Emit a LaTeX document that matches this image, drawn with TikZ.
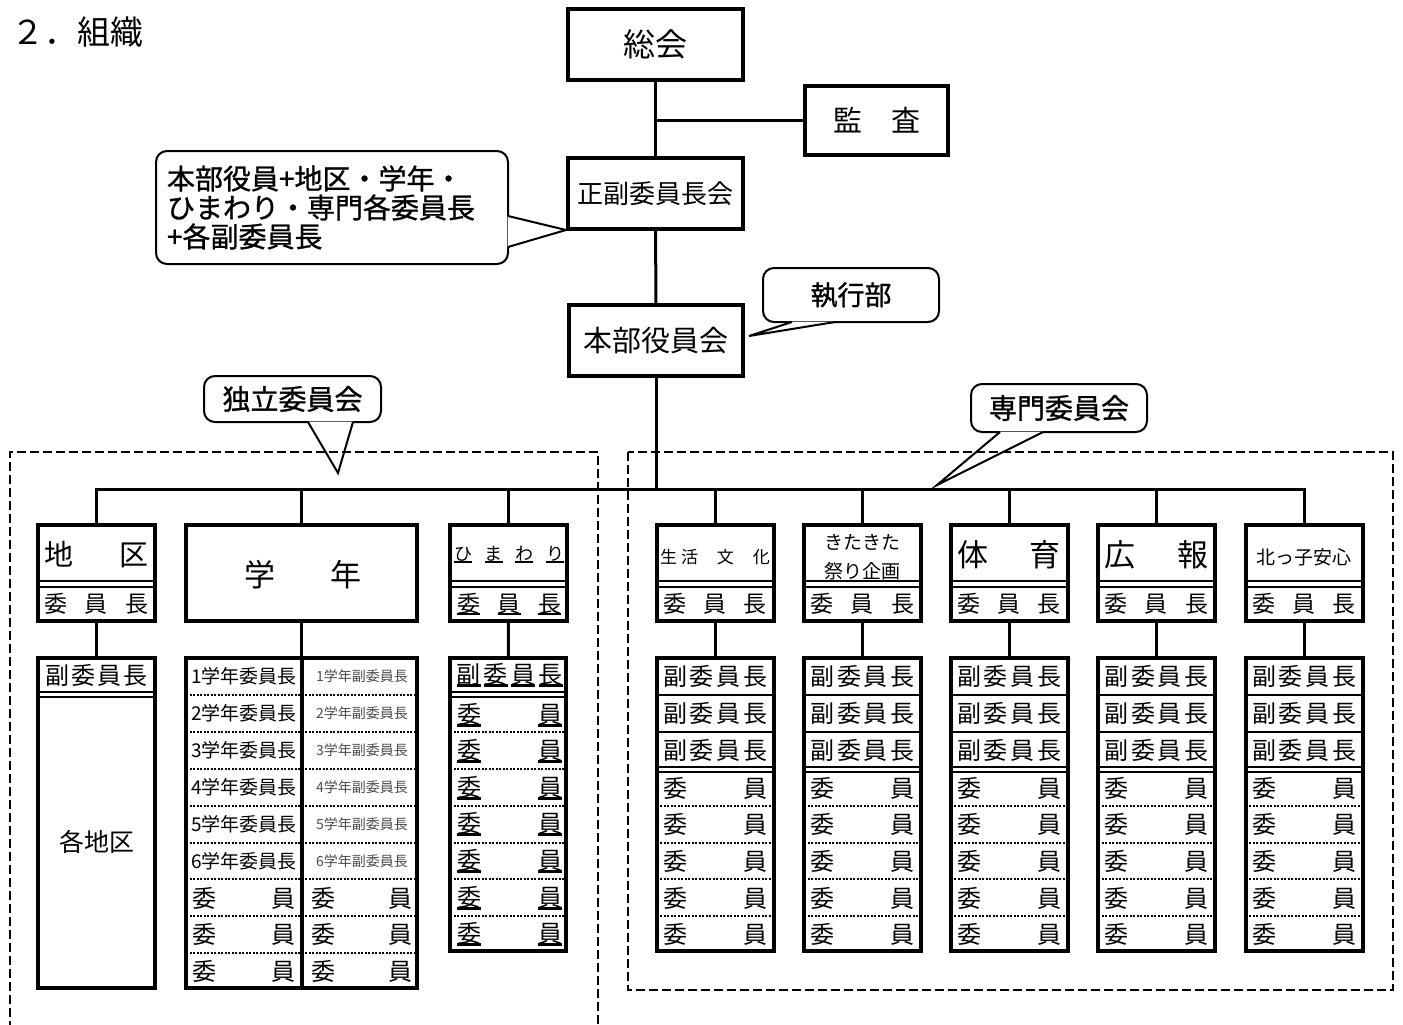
\documentclass[tikz,border=0pt]{standalone}
\usepackage{fontspec}
\setmainfont{Noto Sans CJK JP}
\newfontfamily\callfont[FakeBold=1]{Noto Sans CJK JP}
\newcommand\fsz[1]{\fontsize{#1}{#1}\selectfont}
\newcommand\ulchar[1]{\setbox0\hbox{#1}\rlap{\rule[-0.14em]{\wd0}{0.11em}}\box0}

\begin{document}
\begin{tikzpicture}[x=1pt,y=-1pt]
\tikzstyle{frame} = [draw, line width=4pt, inner sep=0pt, fill=white]
\tikzstyle{link} = [line width=3pt]
\tikzstyle{group} = [line width=2.5pt, dash pattern=on 9pt off 4pt]
\tikzstyle{bubble} = [draw, line width=2pt, rounded corners=11pt, fill=white, inner sep=0pt]
\tikzstyle{sep} = [line width=2.5pt]
\tikzstyle{dsep} = [line width=2pt, dash pattern=on 2pt off 1.5pt]
\useasboundingbox (0,0) rectangle (1403,1025);

\node[anchor=west] (title) at (8,32) {\fsz{33}２．組織};

% callouts
\node[bubble, minimum width=352pt, minimum height=113pt, align=left, text width=330pt, font=\callfont\fontsize{28}{29}\selectfont] (note) at (332,207.5) {本部役員+地区・学年・\\ひまわり・専門各委員長\\+各副委員長};
\coordinate (note-tip) at (566,230);
\fill[white] (507.5,216) -- (note-tip) -- (507.5,247) -- cycle;
\draw[line width=2pt] (508,216) -- (note-tip) -- (508,247);

\node[bubble, minimum width=176pt, minimum height=54pt] (shikko) at (851,295) {\callfont\fsz{27}執行部};
\coordinate (shikko-tip) at (749,336);
\fill[white] (792,321.5) -- (shikko-tip) -- (835,321.5) -- cycle;
\draw[line width=2pt] (792,322) -- (shikko-tip) -- (835,322);

\node[bubble, minimum width=177pt, minimum height=46pt] (dokuritsu) at (292.5,399) {\callfont\fsz{28}独立委員会};
\coordinate (dokuritsu-tip) at (338,473);
\fill[white] (308,421.5) -- (dokuritsu-tip) -- (353,421.5) -- cycle;
\draw[line width=2pt] (308,422) -- (dokuritsu-tip) -- (353,422);

\node[bubble, minimum width=176pt, minimum height=48pt] (senmon) at (1059,408) {\callfont\fsz{28}専門委員会};
\coordinate (senmon-tip) at (937,485);
\fill[white] (1000,431.5) -- (senmon-tip) -- (1043,431.5) -- cycle;
\draw[line width=2pt] (1000,432) -- (senmon-tip) -- (1043,432);

% groups
\draw[group] (10,1030) -- (10,452) -- (598,452) -- (598,1030);
\draw[group] (628,452) rectangle (1393,990);

% top of the tree
\node[frame, minimum width=175pt, minimum height=71pt] (soukai) at (655.5,44.5) {\fsz{32}総会};
\node[frame, minimum width=143pt, minimum height=69pt] (kansa) at (876.5,120.5) {\fsz{29}監\hspace{29pt}査};
\node[frame, minimum width=175pt, minimum height=71pt] (seifuku) at (655.5,193.5) {\fsz{26}正副委員長会};
\node[frame, minimum width=174pt, minimum height=71pt] (honbu) at (656,340.5) {\fsz{29}本部役員会};
\coordinate (bus) at (656,489);

% 地区
\node[frame, minimum width=117pt, minimum height=96pt] (chiku) at (96.5,573) {};
\draw[sep] (38,581) -- (155,581) (38,587) -- (155,587);
\node at (96.5,555) {\fsz{29}\makebox[104pt]{地\hfill 区}};
\node at (96.5,604) {\fsz{23}\makebox[104pt]{委\hfill 員\hfill 長}};
\node[frame, minimum width=117pt, minimum height=330pt] (chiku-sub) at (96.5,823) {};
\draw[sep] (38,692) -- (155,692) (38,697) -- (155,697);
\node at (96.5,675) {\fsz{24}\makebox[103pt]{副\hfill 委\hfill 員\hfill 長}};
\node at (96.5,842) {\fsz{25}各地区};

% 学年
\node[frame, minimum width=231pt, minimum height=96pt] (gakunen) at (301.5,573) {};
\node at (303,575) {\fsz{31}\makebox[117pt]{学\hfill 年}};
\node[frame, minimum width=231pt, minimum height=330pt] (gakunen-sub) at (301.5,823) {};
\foreach \sy in {695,732,769,806,843,879,916,953}
  \draw[dsep] (186,\sy) -- (417,\sy);
\draw[line width=4pt] (gakunen-sub.north) -- (gakunen-sub.south);
\foreach \n in {1,...,6} {
  \pgfmathsetmacro\ry{676+(\n-1)*37}
  \node at (244,\ry) {\fsz{19}\n 学年委員長};
  \node[text=black!70] at (362,\ry) {\fsz{14}\n 学年副委員長};
}
\foreach \ry in {898,934,971} {
  \node at (244,\ry) {\fsz{24}\makebox[103pt]{委\hfill 員}};
  \node at (362,\ry) {\fsz{24}\makebox[101pt]{委\hfill 員}};
}

% ひまわり
\node[frame, minimum width=117pt, minimum height=96pt] (himawari) at (508.5,573) {};
\draw[sep] (450,581) -- (567,581) (450,587) -- (567,587);
\node at (509,555) {\fsz{18}\makebox[110pt]{\ulchar{ひ}\hfill\ulchar{ま}\hfill\ulchar{わ}\hfill\ulchar{り}}};
\node at (509,604) {\fsz{23}\makebox[104pt]{\ulchar{委}\hfill\ulchar{員}\hfill\ulchar{長}}};
\node[frame, minimum width=116pt, minimum height=293pt] (himawari-sub) at (508,804.5) {};
\draw[sep] (450,692) -- (566,692) (450,697) -- (566,697);
\node at (509.5,675) {\fsz{24}\makebox[106pt]{\ulchar{副}\hfill\ulchar{委}\hfill\ulchar{員}\hfill\ulchar{長}}};
\foreach \sy in {732,769,806,843,879,916}
  \draw[dsep] (450,\sy) -- (566,\sy);
\foreach \ry in {715,751,788,824,861,898,934}
  \node at (509.5,\ry) {\fsz{24}\makebox[105pt]{\ulchar{委}\hfill\ulchar{員}}};

% 専門委員会
\foreach \cx/\nm in {715/seikatsu, 862.5/kita, 1009/taiiku, 1156.5/kouhou, 1304/kittko} {
  \node[frame, minimum width=117pt, minimum height=96pt] (\nm) at (\cx,573) {};
  \draw[sep] (\cx-58.5,581) -- (\cx+58.5,581) (\cx-58.5,587) -- (\cx+58.5,587);
  \node at (\cx,604) {\fsz{23}\makebox[104pt]{委\hfill 員\hfill 長}};
  \node[frame, minimum width=117pt, minimum height=293pt] (\nm-sub) at (\cx,804.5) {};
  \foreach \sy in {695,732}
    \draw[sep] (\cx-58.5,\sy) -- (\cx+58.5,\sy);
  \draw[sep] (\cx-58.5,767) -- (\cx+58.5,767) (\cx-58.5,772) -- (\cx+58.5,772);
  \foreach \sy in {806,843,879,916}
    \draw[dsep] (\cx-58.5,\sy) -- (\cx+58.5,\sy);
  \foreach \ry in {676,713,750}
    \node at (\cx,\ry) {\fsz{24}\makebox[104pt]{副\hfill 委\hfill 員\hfill 長}};
  \foreach \ry in {788,824,861,898,934}
    \node at (\cx,\ry) {\fsz{24}\makebox[104pt]{委\hfill 員}};
  \draw[link] (\nm) -- (\nm-sub);
}
\node at (715,557) {\fsz{17}\makebox[110pt]{生\hspace{4pt}活\hfill 文\hfill 化}};
\node[align=center, font=\fontsize{19}{29}\selectfont] at (862.5,557) {きたきた\\祭り企画};
\node at (1009,555) {\fsz{31}\makebox[104pt]{体\hfill 育}};
\node at (1156.5,555) {\fsz{31}\makebox[104pt]{広\hfill 報}};
\node at (1304,557) {\fsz{19}北っ子安心};

% connectors
\draw[link] (soukai) -- (seifuku);
\draw[link] (kansa.west) -- (kansa.west -| soukai.south);
\draw[link] (seifuku) -- (honbu);
\draw[link] (honbu) -- (honbu.south |- bus);
\draw[link] (chiku.north) -- (chiku.north |- bus) -- (kittko.north |- bus) -- (kittko.north);
\foreach \nm in {gakunen,himawari,seikatsu,kita,taiiku,kouhou}
  \draw[link] (\nm.north) -- (\nm.north |- bus);
\foreach \nm in {chiku,gakunen,himawari}
  \draw[link] (\nm) -- (\nm-sub);
\end{tikzpicture}
\end{document}
